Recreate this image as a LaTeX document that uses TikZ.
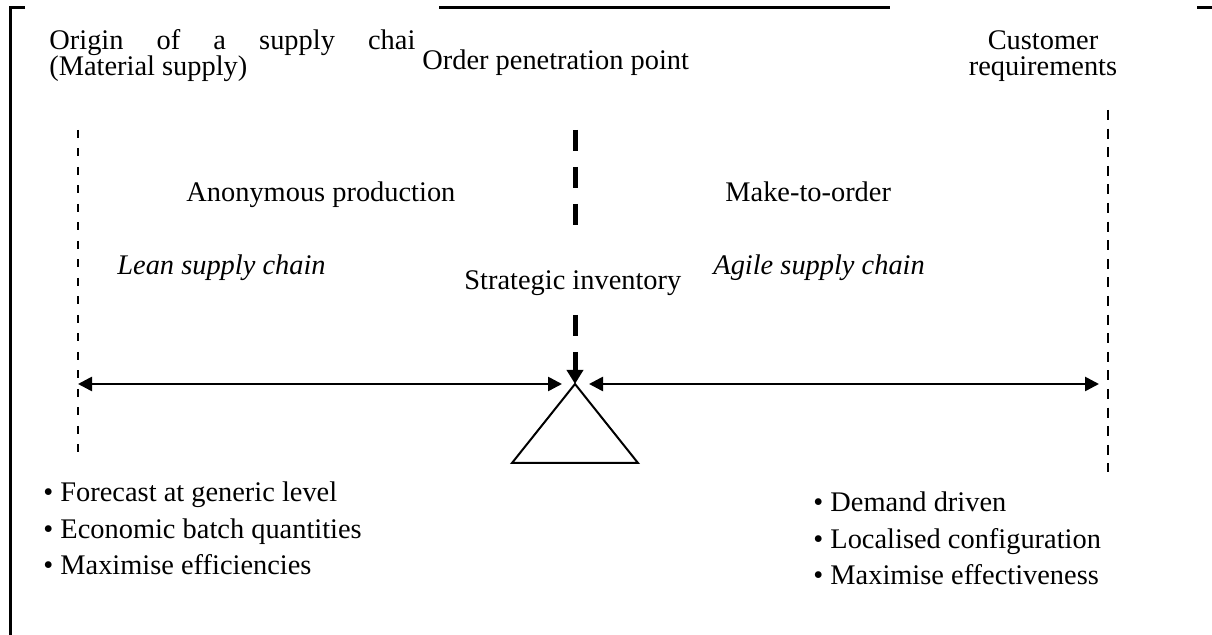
\documentclass[tikz,border=0pt]{standalone}
\usepackage{fontspec}
\setmainfont{Liberation Serif}
\usetikzlibrary{positioning, arrows.meta}

\tikzset{
  lbl/.style={inner sep=0pt, font=\fontsize{14.2}{13}\selectfont},
  blist/.style={lbl, align=left, anchor=base west, font=\fontsize{14.2}{18.25}\selectfont},
  frame/.style={line width=1.5pt},
  limit/.style={line width=1.4pt, dash pattern=on 4pt off 5.25pt},
  decouple/.style={line width=2.5pt, dash pattern=on 10.5pt off 8pt},
  flow/.style={line width=1.3pt, {Triangle[length=7pt,width=7pt]}-{Triangle[length=7pt,width=7pt]}},
}

\begin{document}
\begin{tikzpicture}[x=0.5pt, y=-0.5pt]
  \useasboundingbox (0,0) rectangle (1212,635);

  % frame (partly hidden behind the text boxes)
  \draw[frame] (25,8) -- (10,8) -- (10,635);
  \draw[frame] (439,8) -- (890,8);
  \draw[frame] (1197,8) -- (1212,8);

  % top labels (base = last line)
  \node[lbl, align=left, anchor=base west] (origin) at (49,76)
    {\makebox[183pt][s]{Origin of a supply chai}\\(Material supply)};
  \node[lbl, anchor=base west, fill=white] (opp) at (422,70) {Order penetration point};
  \node[lbl, align=center, anchor=base] (cust) at (1043,76) {Customer\\requirements};

  % points on the chain
  \coordinate (srcTop) at (78,130);
  \coordinate (srcBot) at (78,455);
  \coordinate (srcMid) at (78,384);
  \coordinate (endTop) at (1108,110);
  \coordinate (endBot) at (1108,472);
  \coordinate (endMid) at (1099,384);
  \coordinate (oppTop) at (575,130);
  \coordinate (apex) at (575,384);
  \coordinate (baseL) at (512,463);
  \coordinate (baseR) at (638,463);

  % boundaries of the chain
  \draw[limit] (srcTop) -- (srcBot);
  \draw[limit, dash pattern=on 5pt off 4.3pt] (endTop) -- (endBot);

  % decoupling point
  \draw[decouple, -{Triangle[length=7pt,width=8pt]}] (oppTop) -- (apex);
  \draw[line width=1pt] (apex) -- (baseL) -- (baseR) -- cycle;

  % the two halves of the chain
  \draw[flow, shorten >=6.5pt] (srcMid) -- (apex);
  \draw[flow, shorten <=7pt] (apex) -- (endMid);

  % middle labels
  \node[lbl, anchor=base west] (anon) at (186,202) {Anonymous production};
  \node[lbl, anchor=base west] (mto) at (725,202) {Make-to-order};
  \node[lbl, anchor=base west] (lean) at (117,275) {\itshape Lean supply chain};
  \node[lbl, anchor=base west] (agile) at (713,275) {\itshape Agile supply chain};
  \node[lbl, anchor=base west, fill=white, inner xsep=2pt, text height=25pt, text depth=6pt]
    (stock) at (460,290) {Strategic inventory};

  % characteristics (base = last line)
  \node[blist] (leanlist) at (43,575)
    {\textbullet\ Forecast at generic level\\
     \textbullet\ Economic batch quantities\\
     \textbullet\ Maximise efficiencies};
  \node[blist] (agilelist) at (813,585)
    {\textbullet\ Demand driven\\
     \textbullet\ Localised configuration\\
     \textbullet\ Maximise effectiveness};
\end{tikzpicture}
\end{document}
